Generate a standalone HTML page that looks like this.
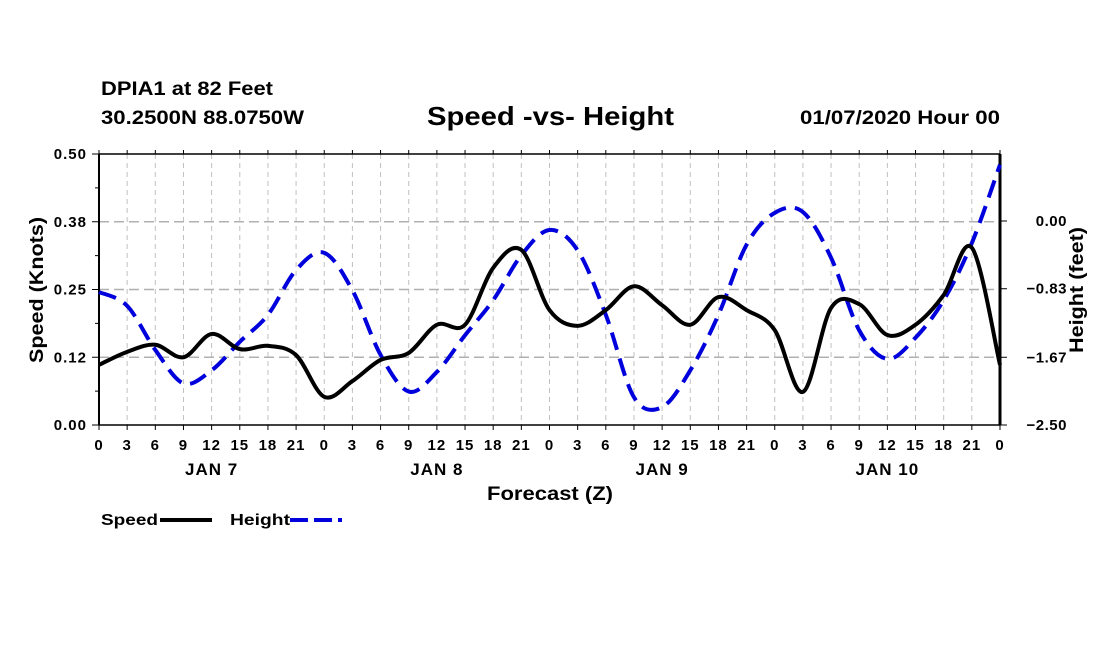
<!DOCTYPE html>
<html><head><meta charset="utf-8"><style>
body{margin:0;background:#fff;}
svg{display:block;font-family:"Liberation Sans",sans-serif;font-weight:bold;}
</style></head><body>
<svg id="chart" width="1100" height="650">
<text x="101" y="95" font-size="19" textLength="172" lengthAdjust="spacingAndGlyphs">DPIA1 at 82 Feet</text>
<text x="101" y="124" font-size="19" textLength="203" lengthAdjust="spacingAndGlyphs">30.2500N 88.0750W</text>
<text x="427" y="125" font-size="26" textLength="247" lengthAdjust="spacingAndGlyphs">Speed -vs- Height</text>
<text x="800" y="124" font-size="19" textLength="200" lengthAdjust="spacingAndGlyphs">01/07/2020 Hour 00</text>
<g id="grid"></g><g id="axes"></g><g id="series"></g>
<text x="487" y="500" font-size="19" textLength="126" lengthAdjust="spacingAndGlyphs">Forecast (Z)</text>
<text transform="translate(43,290) rotate(-90)" font-size="19" text-anchor="middle" textLength="146" lengthAdjust="spacingAndGlyphs">Speed (Knots)</text>
<text transform="translate(1083,290) rotate(-90)" font-size="19" text-anchor="middle" textLength="126" lengthAdjust="spacingAndGlyphs">Height (feet)</text>
<g><text x="101" y="525" font-size="16" textLength="57" lengthAdjust="spacingAndGlyphs">Speed</text><line x1="160" y1="520" x2="212" y2="520" stroke="#000" stroke-width="4"/></g>
<g><text x="230" y="525" font-size="16" textLength="60" lengthAdjust="spacingAndGlyphs">Height</text><line x1="290" y1="520" x2="342" y2="520" stroke="#0000dd" stroke-width="4" stroke-dasharray="18,6"/></g>
</svg>
<script>
const speed=[0.111,0.135,0.148,0.125,0.168,0.140,0.146,0.129,0.052,0.081,0.120,0.133,0.185,0.185,0.290,0.323,0.212,0.183,0.212,0.256,0.221,0.185,0.236,0.212,0.175,0.061,0.216,0.223,0.166,0.185,0.240,0.327,0.111];
const height=[-0.87,-1.04,-1.58,-1.99,-1.83,-1.48,-1.15,-0.60,-0.39,-0.85,-1.64,-2.09,-1.85,-1.40,-0.97,-0.42,-0.11,-0.36,-1.15,-2.16,-2.28,-1.83,-1.15,-0.29,0.10,0.11,-0.45,-1.34,-1.69,-1.43,-0.97,-0.27,0.69];
const hourLabels=["0","3","6","9","12","15","18","21"];
const dayLabels=["JAN 7","JAN 8","JAN 9","JAN 10"];
const leftTicks=["0.00","0.12","0.25","0.38","0.50"];
const rightTicks=["-2.50","-1.67","-0.83","0.00"];
const X0=99,X1=1000,Y0=425,Y1=154;
const xs=i=>X0+(X1-X0)*i/32;
const ys=v=>Y0-(Y0-Y1)*v/0.5;
const yh=v=>Y0-(v+2.5)*(Y0-221)/2.5;
const NS="http://www.w3.org/2000/svg";
function mk(t,a,p){const e=document.createElementNS(NS,t);for(const k in a)e.setAttribute(k,a[k]);p.appendChild(e);return e;}
const grid=document.getElementById('grid'),axes=document.getElementById('axes'),ser=document.getElementById('series');
for(let i=1;i<32;i++){const l=mk('line',{x1:xs(i),x2:xs(i),y1:Y1,y2:Y0,stroke:'#c0c0c0','stroke-dasharray':'5,4'},grid);

}
for(let j=1;j<4;j++){const y=ys(j*0.125);const l=mk('line',{x1:X0,x2:X1,y1:y,y2:y,stroke:'#b0b0b0','stroke-width':1.5,'stroke-dasharray':'10,5'},grid);

}
mk('line',{x1:X0,x2:X1,y1:Y0,y2:Y0,stroke:'#000','stroke-width':1.5},axes);
mk('line',{x1:X0,x2:X1,y1:Y1,y2:Y1,stroke:'#000','stroke-width':1.5},axes);
mk('line',{x1:X0,x2:X0,y1:Y1,y2:Y0,stroke:'#000','stroke-width':2},axes);
mk('line',{x1:X1,x2:X1,y1:Y1,y2:Y0,stroke:'#000','stroke-width':3},axes);
for(let i=0;i<=32;i++){const x=xs(i);
mk('line',{x1:x,x2:x,y1:Y0,y2:Y0+5,stroke:'#000'},axes);
mk('line',{x1:x,x2:x,y1:Y1,y2:Y1-4,stroke:'#000'},axes);
const t=mk('text',{x:x,y:Y0+25,'font-size':15,'text-anchor':'middle','letter-spacing':1},axes);t.textContent=hourLabels[i%8];

}
dayLabels.forEach((d,k)=>{const t=mk('text',{x:xs(k*8+4),y:Y0+50,'font-size':17,'text-anchor':'middle','letter-spacing':1},axes);t.textContent=d;

});
for(let j=0;j<=8;j++){const y=Y0-(Y0-Y1)*j/8;mk('line',{x1:X0-(j%2?4:7),x2:X0,y1:y,y2:y,stroke:'#000'},axes);}
leftTicks.forEach((s,j)=>{const t=mk('text',{x:X0-12,y:ys(j*0.125)+5,'font-size':15,'text-anchor':'end','letter-spacing':1},axes);t.textContent=s;

});
rightTicks.forEach(s=>{const v=parseFloat(s);const y=yh(v);mk('line',{x1:X1,x2:X1+7,y1:y,y2:y,stroke:'#000'},axes);
const t=mk('text',{x:X1+67,y:y+5,'font-size':15,'text-anchor':'end','letter-spacing':0.5},axes);t.textContent=s.replace('-','\u2212');

});
function smooth(pts){let d='M'+pts[0][0]+','+pts[0][1];for(let i=0;i<pts.length-1;i++){const p0=pts[Math.max(0,i-1)],p1=pts[i],p2=pts[i+1],p3=pts[Math.min(pts.length-1,i+2)];
d+=' C'+(p1[0]+(p2[0]-p0[0])/6)+','+(p1[1]+(p2[1]-p0[1])/6)+' '+(p2[0]-(p3[0]-p1[0])/6)+','+(p2[1]-(p3[1]-p1[1])/6)+' '+p2[0]+','+p2[1];}return d;}
const hp=mk('path',{d:smooth(height.map((v,i)=>[xs(i),yh(v)])),fill:'none',stroke:'#0000dd','stroke-width':4,'stroke-dasharray':'18,9'},ser);


const sp=mk('path',{d:smooth(speed.map((v,i)=>[xs(i),ys(v)])),fill:'none',stroke:'#000','stroke-width':4},ser);


</script>
</body></html>
